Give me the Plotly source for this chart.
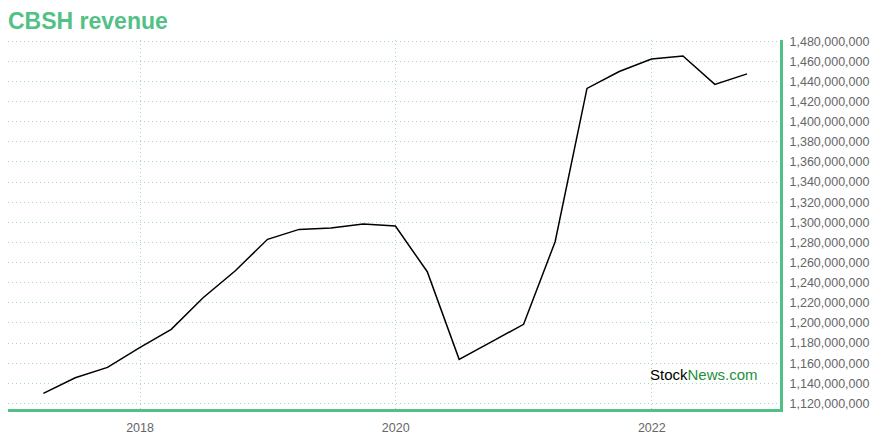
import plotly.graph_objects as go

dates = [
    "2017-03-31", "2017-06-30", "2017-09-30", "2017-12-31",
    "2018-03-31", "2018-06-30", "2018-09-30", "2018-12-31",
    "2019-03-31", "2019-06-30", "2019-09-30", "2019-12-31",
    "2020-03-31", "2020-06-30", "2020-09-30", "2020-12-31",
    "2021-03-31", "2021-06-30", "2021-09-30", "2021-12-31",
    "2022-03-31", "2022-06-30", "2022-09-30",
]
revenue = [
    1130.0e6, 1145.5e6, 1155.8e6, 1175.5e6,
    1193.6e6, 1225.0e6, 1251.9e6, 1283.1e6,
    1293.0e6, 1294.3e6, 1298.3e6, 1296.3e6,
    1250.9e6, 1163.8e6, 1181.2e6, 1198.6e6,
    1280.7e6, 1433.2e6, 1450.0e6, 1462.4e6,
    1465.4e6, 1437.2e6, 1447.6e6,
]
y_ticks = [1120e6 + 20e6 * i for i in range(19)]
x_ticks = ["2018-01-01", "2020-01-01", "2022-01-01"]
x_tick_labels = ["2018", "2020", "2022"]

GREEN = "#52c185"
GRID = "#a3dbba"
FONT = "Liberation Sans, Arial, Helvetica, sans-serif"

# the page body adds an 8px offset, so the figure is 872x432
W, H = 872, 432

fig = go.Figure()
fig.add_trace(go.Scatter(
    x=dates, y=revenue, mode="lines",
    line=dict(color="#000000", width=1.5),
    hoverinfo="skip", showlegend=False,
))

fig.update_layout(
    width=W, height=H,
    margin=dict(l=0, r=100, t=32, b=31, autoexpand=False),
    paper_bgcolor="white", plot_bgcolor="white",
    font=dict(family=FONT, size=12, color="#666666"),
    title=dict(
        text="<b>CBSH revenue</b>",
        x=0, xanchor="left", xref="container",
        y=1 - 13 / H, yanchor="middle", yref="container",
        font=dict(family=FONT, size=23, color=GREEN),
    ),
    xaxis=dict(
        type="date",
        range=["2016-12-20", "2023-01-02"],
        tickvals=x_ticks, ticktext=x_tick_labels,
        showgrid=True, gridcolor=GRID, griddash="1px,3px", gridwidth=1,
        showline=True, linecolor=GREEN, linewidth=3,
        ticks="outside", ticklen=5, tickcolor="rgba(0,0,0,0)",
        tickfont=dict(family=FONT, size=12.5, color="#666666"),
        zeroline=False, fixedrange=True, automargin=False,
    ),
    yaxis=dict(
        side="right",
        range=[1114.4e6, 1481.3e6],
        tickvals=y_ticks,
        tickformat=",d",
        showgrid=True, gridcolor=GRID, griddash="1px,3px", gridwidth=1,
        showline=True, linecolor=GREEN, linewidth=3,
        ticks="outside", ticklen=4, tickcolor="rgba(0,0,0,0)",
        tickfont=dict(family=FONT, size=12.5, color="#666666"),
        zeroline=False, fixedrange=True, automargin=False,
    ),
    annotations=[dict(
        text="<span style='color:#000000'>Stock</span><span style='color:#1e8f3e'>News.com</span>",
        xref="paper", yref="paper",
        x=(760 - 8) / 772, y=(409 - 374) / 369,
        xanchor="right", yanchor="middle",
        showarrow=False,
        font=dict(family=FONT, size=15),
    )],
)

fig.write_html("out.html")
